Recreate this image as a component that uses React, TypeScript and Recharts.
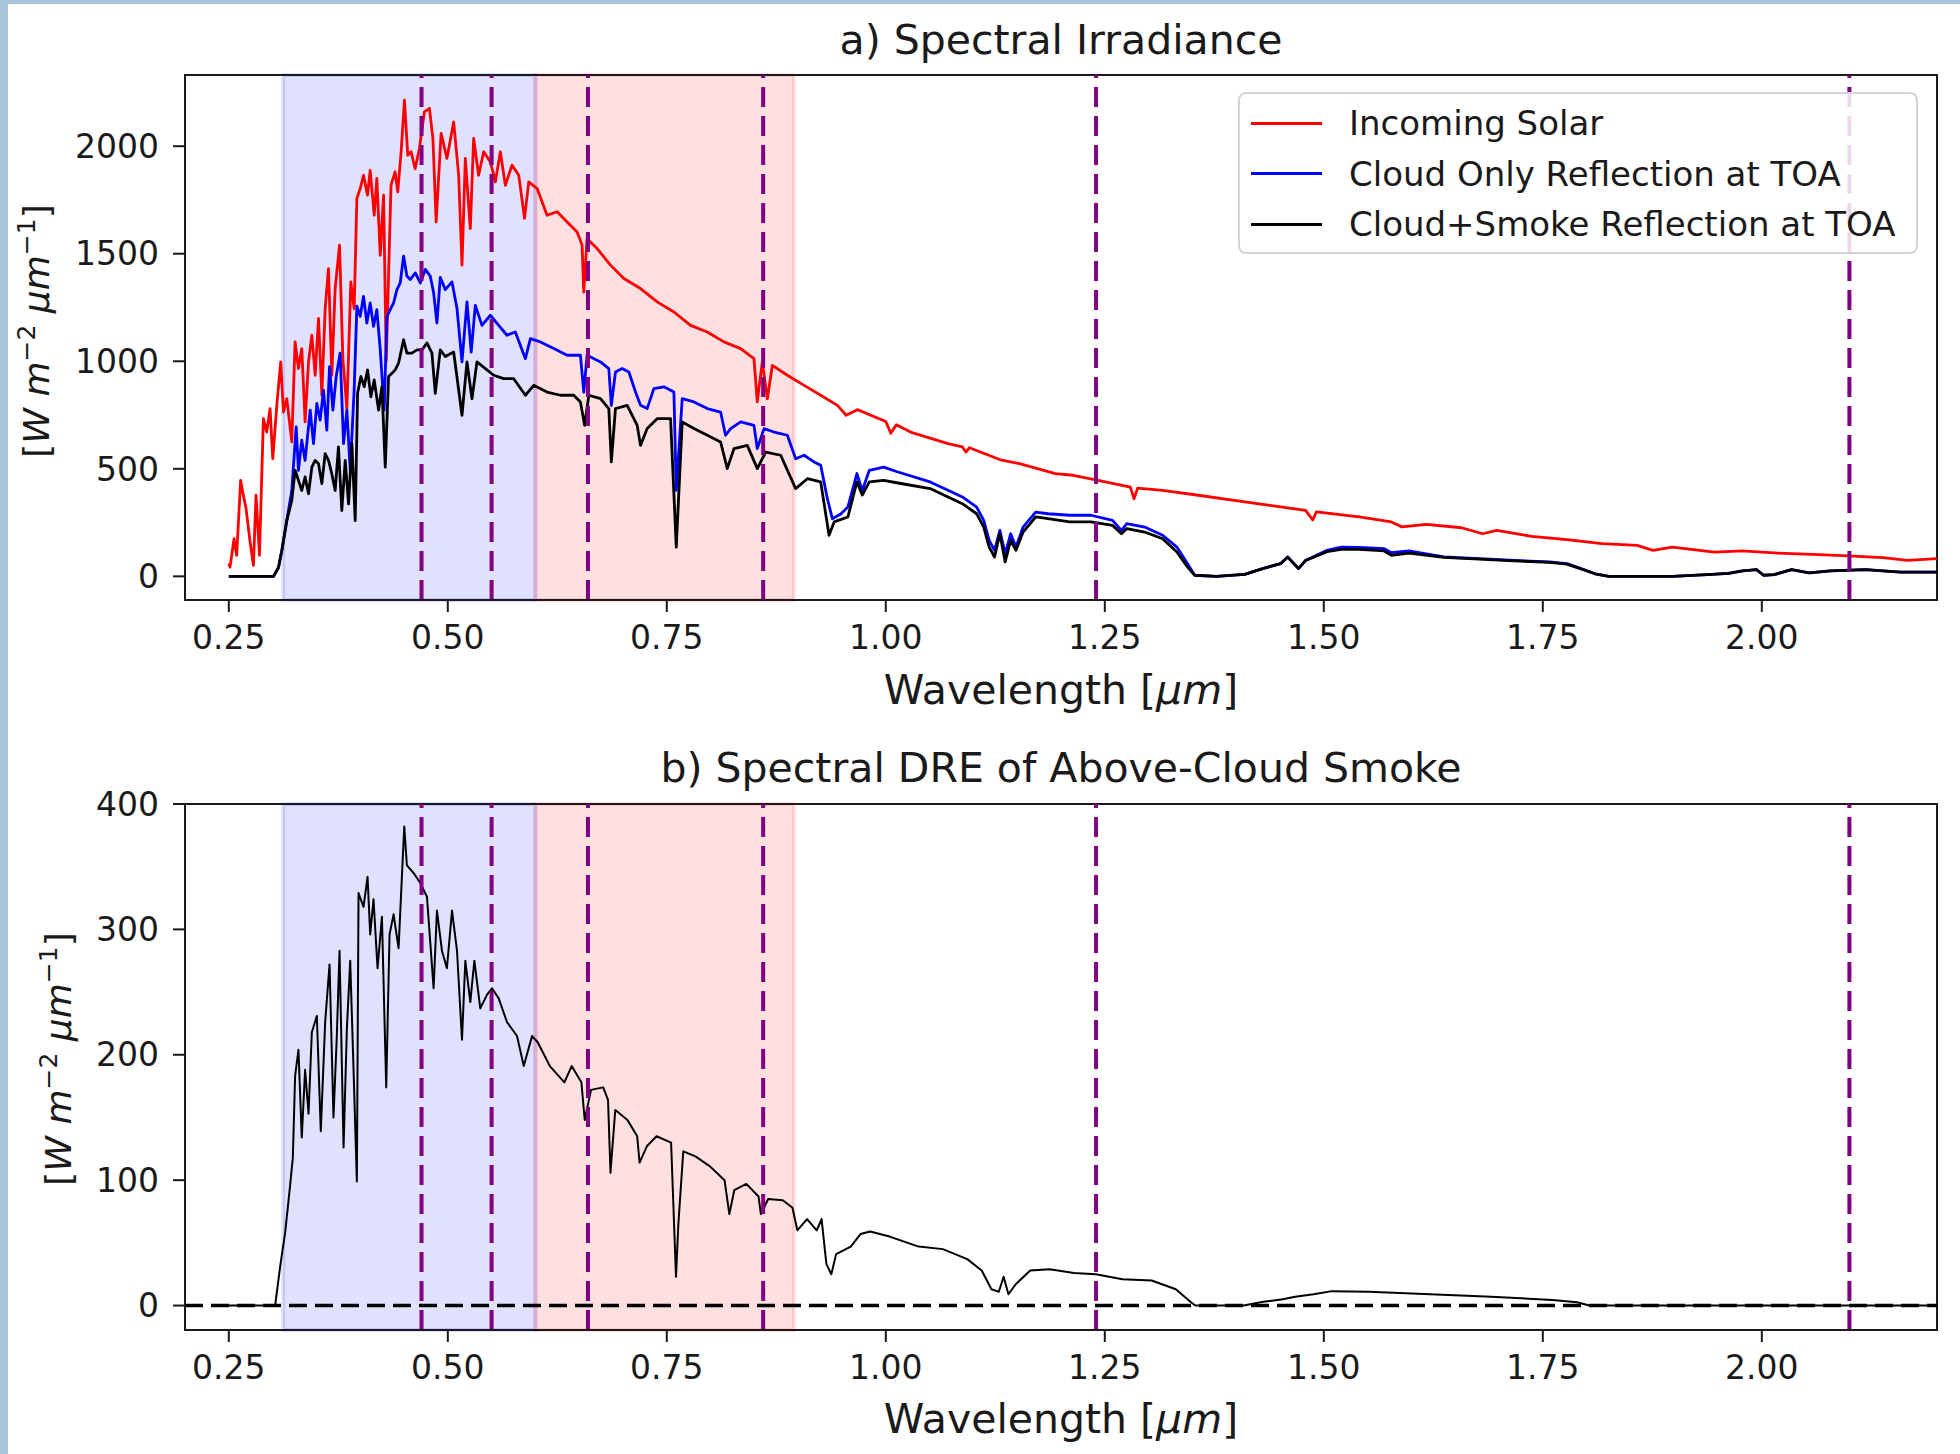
import React from "react"
import { LineChart, Line, XAxis, YAxis, ReferenceArea, ReferenceLine, Legend } from "recharts"

// [wavelength µm, W m-2 µm-1]
const incomingSolar: [number, number][] = [
  [0.25, 60], [0.2514, 43], [0.256, 175], [0.259, 98], [0.2635, 446], [0.2666, 377], [0.2697, 315], [0.2743, 160],
  [0.2781, 51], [0.2811, 377], [0.285, 98], [0.2895, 733], [0.2933, 671], [0.2971, 780], [0.3002, 547], [0.3048, 795],
  [0.3093, 997], [0.3124, 764], [0.3162, 826], [0.3219, 625], [0.3257, 1090], [0.3295, 966], [0.3333, 1059], [0.3371, 718],
  [0.341, 997], [0.3448, 1121], [0.3486, 935], [0.3524, 1199], [0.3562, 842], [0.36, 1245], [0.3638, 1431], [0.3676, 935],
  [0.3714, 1338], [0.3764, 1540], [0.3802, 1012], [0.3848, 780], [0.3893, 1369], [0.3931, 1245], [0.3962, 1757], [0.4, 1803],
  [0.4038, 1865], [0.4084, 1772], [0.4114, 1888], [0.416, 1679], [0.419, 1850], [0.4229, 1493], [0.4267, 1772], [0.4297, 1000],
  [0.4352, 1819], [0.4398, 1881], [0.4429, 1788], [0.4467, 1973], [0.4505, 2214], [0.4543, 1958], [0.4581, 1974], [0.4627, 1895],
  [0.4676, 1989], [0.4733, 2160], [0.479, 2176], [0.483, 2036], [0.4867, 1648], [0.4924, 2060], [0.499, 1943], [0.5067, 2113],
  [0.5124, 1865], [0.5162, 1447], [0.52, 1943], [0.5257, 1617], [0.5295, 2036], [0.5352, 1865], [0.541, 1974], [0.5486, 1927],
  [0.5543, 1834], [0.56, 1974], [0.5657, 1818], [0.5733, 1912], [0.581, 1865], [0.5876, 1664], [0.5924, 1834], [0.602, 1803],
  [0.6133, 1679], [0.6248, 1695], [0.6362, 1648], [0.6476, 1601], [0.6533, 1540], [0.6552, 1322], [0.659, 1570], [0.6705, 1524],
  [0.6857, 1447], [0.701, 1385], [0.72, 1338], [0.739, 1276], [0.7581, 1229], [0.7771, 1167], [0.7962, 1136], [0.8152, 1090],
  [0.8343, 1059], [0.8495, 1012], [0.8533, 811], [0.859, 997], [0.8648, 826], [0.8705, 981], [0.8876, 935], [0.9067, 888],
  [0.9257, 842], [0.9448, 795], [0.9547, 749], [0.9676, 775], [1.0, 720], [1.0057, 665], [1.012, 705], [1.03, 668],
  [1.071, 617], [1.0874, 602], [1.0915, 578], [1.0955, 598], [1.1322, 540], [1.1527, 524], [1.1935, 478], [1.2139, 470],
  [1.2424, 446], [1.2792, 415], [1.2833, 361], [1.2875, 410], [1.3159, 400], [1.3568, 377], [1.3976, 353], [1.4384, 330],
  [1.4792, 307], [1.4874, 262], [1.4915, 300], [1.5404, 276], [1.5771, 253], [1.5891, 230], [1.6172, 242], [1.6573, 226],
  [1.6813, 198], [1.6974, 214], [1.7374, 186], [1.7775, 171], [1.8176, 152], [1.8577, 144], [1.8758, 121], [1.8978, 136],
  [1.9459, 113], [1.978, 118], [2.018, 108], [2.0581, 102], [2.0982, 95], [2.1383, 87], [2.1664, 74], [2.2, 82],
]

const cloudOnly: [number, number][] = [
  [0.25, 0], [0.301, 0], [0.3067, 41], [0.3105, 119], [0.3162, 259], [0.3219, 399], [0.3269, 695], [0.3295, 493],
  [0.3333, 633], [0.3371, 539], [0.3429, 773], [0.3467, 617], [0.3505, 804], [0.3543, 726], [0.3581, 866], [0.3619, 680],
  [0.365, 975], [0.3688, 773], [0.3726, 929], [0.3771, 1038], [0.381, 617], [0.3848, 773], [0.3886, 493], [0.3931, 866],
  [0.3962, 1256], [0.4, 1209], [0.4038, 1302], [0.4076, 1178], [0.4114, 1271], [0.4152, 1162], [0.419, 1240], [0.4229, 1053],
  [0.4274, 773], [0.4305, 1209], [0.4343, 1240], [0.4381, 1271], [0.4419, 1333], [0.4457, 1364], [0.4495, 1489], [0.4533, 1396],
  [0.4571, 1380], [0.4629, 1411], [0.4686, 1364], [0.4743, 1427], [0.48, 1396], [0.4838, 1318], [0.4876, 1178], [0.4914, 1390],
  [0.4971, 1333], [0.5048, 1369], [0.5105, 1245], [0.5162, 997], [0.5219, 1276], [0.5267, 1043], [0.5314, 1260], [0.539, 1167],
  [0.5486, 1214], [0.5581, 1167], [0.5676, 1121], [0.5771, 1136], [0.5886, 1012], [0.5943, 1105], [0.6057, 1090], [0.621, 1059],
  [0.6362, 1028], [0.6514, 1028], [0.6552, 857], [0.659, 1028], [0.6743, 997], [0.6838, 966], [0.6867, 795], [0.6914, 950],
  [0.699, 966], [0.7067, 950], [0.7143, 857], [0.72, 795], [0.7276, 780], [0.7352, 873], [0.7467, 881], [0.7581, 857],
  [0.7608, 400], [0.7676, 826], [0.781, 811], [0.7962, 780], [0.8114, 764], [0.8171, 656], [0.8229, 687], [0.8343, 718],
  [0.8495, 702], [0.8533, 594], [0.861, 687], [0.8724, 671], [0.8876, 656], [0.8971, 547], [0.9067, 563], [0.9181, 532],
  [0.9257, 516], [0.9333, 361], [0.939, 268], [0.9486, 290], [0.9567, 322], [0.967, 478], [0.9731, 398], [0.9812, 493],
  [0.9976, 508], [1.0139, 485], [1.0506, 439], [1.071, 400], [1.0874, 369], [1.1037, 322], [1.1118, 260], [1.118, 167],
  [1.1241, 121], [1.1302, 214], [1.1363, 105], [1.1425, 198], [1.1486, 136], [1.1567, 229], [1.171, 299], [1.1853, 291],
  [1.2098, 284], [1.2343, 284], [1.2588, 260], [1.269, 214], [1.2751, 245], [1.2955, 229], [1.316, 191], [1.3323, 136],
  [1.3445, 59], [1.3527, 5], [1.3772, 0], [1.4098, 9], [1.4302, 36], [1.4506, 59], [1.4588, 90], [1.4711, 36],
  [1.4792, 74], [1.5037, 121], [1.52, 136], [1.5404, 135], [1.569, 129], [1.5771, 110], [1.5971, 118], [1.6372, 90],
  [1.6773, 82], [1.7174, 74], [1.7575, 67], [1.7775, 59], [1.7936, 36], [1.8096, 12], [1.8256, 0], [1.8978, 0],
  [1.9379, 8], [1.962, 14], [1.978, 25], [1.994, 31], [2.002, 5], [2.014, 8], [2.034, 31], [2.054, 16],
  [2.0782, 25], [2.1183, 31], [2.1584, 20], [2.2, 20],
]

const cloudSmoke: [number, number][] = [
  [0.25, 0], [0.301, 0], [0.3067, 41], [0.3105, 119], [0.3162, 259], [0.3219, 353], [0.3257, 493], [0.3295, 446],
  [0.3333, 399], [0.3371, 462], [0.341, 384], [0.3448, 508], [0.3486, 539], [0.3524, 524], [0.3562, 431], [0.36, 571],
  [0.3638, 539], [0.3676, 477], [0.3714, 399], [0.3752, 602], [0.379, 306], [0.3829, 539], [0.3867, 337], [0.3905, 617],
  [0.3943, 259], [0.397, 851], [0.4008, 929], [0.4046, 882], [0.4084, 960], [0.4122, 835], [0.416, 913], [0.421, 773],
  [0.4248, 882], [0.4286, 508], [0.4324, 929], [0.4362, 944], [0.44, 960], [0.4438, 991], [0.4495, 1100], [0.4533, 1038],
  [0.459, 1038], [0.4648, 1053], [0.4705, 1053], [0.4762, 1085], [0.4819, 1038], [0.4857, 851], [0.4914, 1053], [0.4971, 1022],
  [0.5067, 1043], [0.5162, 749], [0.5219, 997], [0.5276, 826], [0.5333, 997], [0.5429, 966], [0.5524, 935], [0.5638, 919],
  [0.5752, 919], [0.5886, 842], [0.5981, 888], [0.6133, 857], [0.6286, 842], [0.6438, 842], [0.6514, 811], [0.6562, 702],
  [0.661, 842], [0.6743, 826], [0.6838, 780], [0.6867, 532], [0.6914, 780], [0.7048, 795], [0.7162, 702], [0.72, 609],
  [0.7276, 687], [0.739, 733], [0.7543, 733], [0.7608, 136], [0.7676, 718], [0.781, 687], [0.7962, 656], [0.8114, 625],
  [0.819, 501], [0.8267, 594], [0.8419, 609], [0.8533, 501], [0.8629, 578], [0.88, 563], [0.8971, 408], [0.9105, 454],
  [0.9257, 439], [0.9352, 191], [0.941, 253], [0.9567, 276], [0.967, 439], [0.9731, 378], [0.9812, 439], [0.9976, 446],
  [1.0139, 434], [1.0506, 408], [1.071, 369], [1.0874, 338], [1.1037, 291], [1.1118, 229], [1.118, 136], [1.1241, 90],
  [1.1302, 198], [1.1363, 67], [1.1425, 167], [1.1486, 121], [1.1567, 206], [1.171, 276], [1.1853, 268], [1.2098, 253],
  [1.2343, 253], [1.2588, 237], [1.269, 198], [1.2751, 222], [1.2955, 206], [1.316, 175], [1.3323, 113], [1.3445, 43],
  [1.3527, 5], [1.3772, 0], [1.4098, 9], [1.4302, 36], [1.4506, 59], [1.4588, 90], [1.4711, 36], [1.4792, 74],
  [1.5037, 115], [1.52, 125], [1.5404, 125], [1.569, 118], [1.5771, 98], [1.5971, 108], [1.6372, 88], [1.6773, 80],
  [1.7174, 72], [1.7575, 65], [1.7775, 57], [1.7936, 35], [1.8096, 12], [1.8256, 0], [1.8978, 0], [1.9379, 8],
  [1.962, 14], [1.978, 25], [1.994, 31], [2.002, 5], [2.014, 8], [2.034, 31], [2.054, 16], [2.0782, 25],
  [2.1183, 31], [2.1584, 20], [2.2, 20],
]

const smokeDre: [number, number][] = [
  [0.25, 0], [0.3029, 0], [0.3086, 31], [0.3143, 58], [0.32, 96], [0.3231, 118], [0.3257, 183], [0.3295, 204],
  [0.3333, 134], [0.3371, 188], [0.341, 153], [0.3448, 218], [0.3505, 231], [0.355, 139], [0.36, 226], [0.365, 272],
  [0.3695, 150], [0.3733, 215], [0.3764, 283], [0.381, 126], [0.3848, 221], [0.3886, 275], [0.3924, 188], [0.3962, 99],
  [0.3981, 329], [0.4038, 318], [0.4084, 342], [0.4114, 296], [0.4152, 324], [0.4198, 269], [0.4248, 310], [0.4297, 174],
  [0.4335, 296], [0.4381, 312], [0.4438, 285], [0.4476, 342], [0.4503, 382], [0.4533, 351], [0.461, 345], [0.4686, 337],
  [0.4762, 326], [0.4838, 253], [0.4876, 315], [0.4933, 283], [0.499, 269], [0.5048, 315], [0.5105, 283], [0.5162, 212],
  [0.52, 275], [0.5257, 242], [0.5303, 275], [0.5371, 237], [0.5448, 248], [0.5505, 253], [0.5581, 245], [0.5676, 226],
  [0.579, 215], [0.5867, 191], [0.5962, 215], [0.6026, 210], [0.6165, 191], [0.6331, 178], [0.6414, 191], [0.6525, 178],
  [0.6563, 148], [0.6635, 172], [0.6774, 174], [0.6829, 164], [0.6857, 106], [0.6912, 156], [0.7051, 148], [0.7162, 135],
  [0.7189, 114], [0.7272, 127], [0.7383, 135], [0.7549, 130], [0.7605, 23], [0.7632, 65], [0.7688, 123], [0.7827, 119],
  [0.7993, 111], [0.8159, 100], [0.8214, 73], [0.827, 92], [0.8408, 97], [0.8547, 87], [0.8574, 73], [0.8657, 85],
  [0.8824, 84], [0.8935, 78], [0.899, 60], [0.9101, 69], [0.9212, 60], [0.9267, 69], [0.9322, 33], [0.9378, 25],
  [0.9433, 41], [0.96, 47], [0.9711, 57], [0.9821, 59], [1.0043, 55], [1.0375, 47], [1.0652, 45], [1.0929, 37],
  [1.1095, 28], [1.1206, 13], [1.129, 11], [1.1345, 23], [1.14, 9], [1.1483, 17], [1.1649, 28], [1.1871, 29],
  [1.2148, 26], [1.2397, 25], [1.2702, 21], [1.3035, 20], [1.3311, 13], [1.3477, 3], [1.3533, 0], [1.4086, 0],
  [1.4308, 3], [1.4533, 5], [1.4673, 7], [1.4883, 9], [1.5093, 11.5], [1.5513, 11], [1.6213, 9], [1.6912, 7],
  [1.7612, 4.5], [1.7892, 2.7], [1.8032, 0], [2.2, 0],
]

const modisBands = [0.47, 0.55, 0.66, 0.86, 1.24, 2.1]
const uvVisSpan = [0.312, 0.6]
const nirSpan = [0.6, 0.895]
const wavelengthTicks = [0.25, 0.5, 0.75, 1.0, 1.25, 1.5, 1.75, 2.0]
const irradianceTicks = [0, 500, 1000, 1500, 2000]
const dreTicks = [0, 100, 200, 300, 400]

const series = [
  { name: "Incoming Solar", color: "#ff0000", data: incomingSolar },
  { name: "Cloud Only Reflection at TOA", color: "#0000ff", data: cloudOnly },
  { name: "Cloud+Smoke Reflection at TOA", color: "#000000", data: cloudSmoke },
]

const FONT = "'DejaVu Sans', Verdana, sans-serif"
const INK = "#1a1a1a"
const tick = { fill: INK, fontSize: 33, fontFamily: FONT }
const axisStroke = { stroke: INK, strokeWidth: 2 }

const toRows = (pts: [number, number][]) => pts.map(([x, y]) => ({ x, y }))

function LegendBox() {
  return (
    <div
      style={{
        boxSizing: "border-box",
        width: 680,
        height: 162,
        border: "2px solid #d4d4d4",
        borderRadius: 8,
        background: "rgba(255,255,255,0.85)",
        paddingTop: 4,
      }}
    >
      {series.map((s) => (
        <div key={s.name} style={{ display: "flex", alignItems: "center", height: 50.5 }}>
          <span style={{ display: "inline-block", width: 71, height: 3, background: s.color, marginLeft: 11, marginRight: 27 }} />
          <span style={{ fontSize: 34, fontFamily: FONT, color: INK, lineHeight: "40px" }}>{s.name}</span>
        </div>
      ))}
    </div>
  )
}

function IrradiancePanel() {
  return (
    <LineChart width={1960} height={700} margin={{ top: 75, right: 23, bottom: 0, left: 0 }}>
      <XAxis
        type="number"
        dataKey="x"
        domain={[0.2, 2.2]}
        allowDataOverflow
        ticks={wavelengthTicks}
        interval={0}
        tickFormatter={(v: number) => v.toFixed(2)}
        height={100}
        tick={tick}
        tickSize={12}
        tickMargin={14}
        axisLine={axisStroke}
        tickLine={axisStroke}
      />
      <YAxis
        type="number"
        domain={[-110, 2331]}
        allowDataOverflow
        ticks={irradianceTicks}
        interval={0}
        width={185}
        tick={tick}
        tickSize={12}
        tickMargin={14}
        axisLine={axisStroke}
        tickLine={axisStroke}
      />
      <ReferenceArea x1={uvVisSpan[0]} x2={uvVisSpan[1]} fill="#0000ff" fillOpacity={0.12} stroke="#0000ff" strokeOpacity={0.12} strokeWidth={4} />
      <ReferenceArea x1={nirSpan[0]} x2={nirSpan[1]} fill="#ff0000" fillOpacity={0.12} stroke="#ff0000" strokeOpacity={0.12} strokeWidth={4} />
      {series.map((s) => (
        <Line
          key={s.name}
          data={toRows(s.data)}
          dataKey="y"
          name={s.name}
          type="linear"
          stroke={s.color}
          strokeWidth={2.8}
          strokeLinejoin="round"
          dot={false}
          activeDot={false}
          isAnimationActive={false}
        />
      ))}
      {modisBands.map((b) => (
        <ReferenceLine key={b} x={b} stroke="#800080" strokeWidth={4} strokeDasharray="20 9" />
      ))}
      <ReferenceArea x1={0.2} x2={2.2} y1={-110} y2={2331} fill="none" stroke={INK} strokeWidth={2} />
      <Legend
        layout="vertical"
        align="center"
        verticalAlign="middle"
        wrapperStyle={{ left: 1238, top: 92, width: 680, height: 162 }}
        content={() => <LegendBox />}
      />
    </LineChart>
  )
}

function DrePanel() {
  return (
    <LineChart width={1960} height={700} margin={{ top: 74, right: 23, bottom: 0, left: 0 }}>
      <XAxis
        type="number"
        dataKey="x"
        domain={[0.2, 2.2]}
        allowDataOverflow
        ticks={wavelengthTicks}
        interval={0}
        tickFormatter={(v: number) => v.toFixed(2)}
        height={100}
        tick={tick}
        tickSize={12}
        tickMargin={14}
        axisLine={axisStroke}
        tickLine={axisStroke}
      />
      <YAxis
        type="number"
        domain={[-19.5, 400]}
        allowDataOverflow
        ticks={dreTicks}
        interval={0}
        width={185}
        tick={tick}
        tickSize={12}
        tickMargin={14}
        axisLine={axisStroke}
        tickLine={axisStroke}
      />
      <ReferenceArea x1={uvVisSpan[0]} x2={uvVisSpan[1]} fill="#0000ff" fillOpacity={0.12} stroke="#0000ff" strokeOpacity={0.12} strokeWidth={4} />
      <ReferenceArea x1={nirSpan[0]} x2={nirSpan[1]} fill="#ff0000" fillOpacity={0.12} stroke="#ff0000" strokeOpacity={0.12} strokeWidth={4} />
      <Line
        data={toRows(smokeDre)}
        dataKey="y"
        name="Spectral DRE"
        type="linear"
        stroke="#000000"
        strokeWidth={2}
        strokeLinejoin="round"
        dot={false}
        activeDot={false}
        isAnimationActive={false}
      />
      <ReferenceLine y={0} stroke="#000000" strokeWidth={3.5} strokeDasharray="18 8" />
      {modisBands.map((b) => (
        <ReferenceLine key={b} x={b} stroke="#800080" strokeWidth={4} strokeDasharray="20 9" />
      ))}
      <ReferenceArea x1={0.2} x2={2.2} y1={-19.5} y2={400} fill="none" stroke={INK} strokeWidth={2} />
    </LineChart>
  )
}

function UnitLabel({ x, y }: { x: number; y: number }) {
  return (
    <text transform={`translate(${x},${y}) rotate(-90)`} textAnchor="middle" fontSize={36} fontFamily={FONT} fill={INK}>
      <tspan>[</tspan>
      <tspan fontStyle="italic">W</tspan>
      <tspan>{" "}</tspan>
      <tspan fontStyle="italic">m</tspan>
      <tspan dy={-14} fontSize={25}>−2</tspan>
      <tspan dy={14}>{" "}</tspan>
      <tspan fontStyle="italic">µm</tspan>
      <tspan dy={-14} fontSize={25}>−1</tspan>
      <tspan dy={14}>]</tspan>
    </text>
  )
}

function WavelengthLabel({ y }: { y: number }) {
  return (
    <text x={1061} y={y} textAnchor="middle" fontSize={41} fontFamily={FONT} fill={INK}>
      Wavelength [<tspan fontStyle="italic">µm</tspan>]
    </text>
  )
}

export default function App() {
  return (
    <div style={{ position: "absolute", left: 0, top: 0, width: 1960, height: 1454, background: "#ffffff", overflow: "hidden" }}>
      <div style={{ position: "absolute", left: 0, top: 0 }}>
        <IrradiancePanel />
      </div>
      <div style={{ position: "absolute", left: 0, top: 730 }}>
        <DrePanel />
      </div>
      <svg width={1960} height={1454} style={{ position: "absolute", left: 0, top: 0, pointerEvents: "none" }}>
        <text x={1061} y={54} textAnchor="middle" fontSize={41} fontFamily={FONT} fill={INK}>
          a) Spectral Irradiance
        </text>
        <WavelengthLabel y={704} />
        <UnitLabel x={49} y={331} />
        <text x={1061} y={782} textAnchor="middle" fontSize={41} fontFamily={FONT} fill={INK}>
          b) Spectral DRE of Above-Cloud Smoke
        </text>
        <WavelengthLabel y={1433} />
        <UnitLabel x={71} y={1059} />
      </svg>
      <div style={{ position: "absolute", left: 0, top: 0, width: 1960, height: 4, background: "#a5c4dc" }} />
      <div style={{ position: "absolute", left: 0, top: 0, width: 8, height: 1454, background: "#a5c4dc" }} />
    </div>
  )
}
